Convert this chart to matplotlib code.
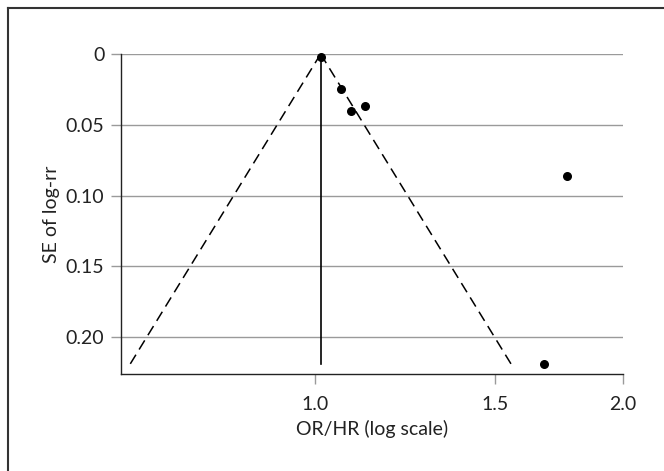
import numpy as np
import matplotlib
matplotlib.use("Agg")
import matplotlib.pyplot as plt
from matplotlib.lines import Line2D
from matplotlib.ticker import FixedLocator, NullLocator

# study estimates (OR/HR) and their standard errors of log-rr
effects = [1.013, 1.061, 1.085, 1.120, 1.763, 1.674]
se = [0.002, 0.0245, 0.040, 0.0367, 0.086, 0.219]

pooled = 1.013
se_max = 0.22

xticks = [1.0, 1.5, 2.0]
xticklabels = ["1.0", "1.5", "2.0"]
yticks = [0, 0.05, 0.10, 0.15, 0.20]
yticklabels = ["0", "0.05", "0.10", "0.15", "0.20"]

plt.rcParams["font.family"] = ["Lato", "DejaVu Sans"]

fig = plt.figure(figsize=(6.64, 4.71), dpi=100)
ax = fig.add_axes([121 / 664, 1 - 374 / 471, (622.5 - 121) / 664, (374 - 54) / 471])

ax.set_xscale("log")
ax.set_xlim(0.646, 2.0)
ax.set_ylim(0.226, 0)

# horizontal grid
for yv in yticks:
    ax.axhline(yv, color="#9a9a9a", lw=1.0, zorder=1)

# funnel (pseudo 95% limits)
s = np.array([0, se_max])
ax.plot(pooled * np.exp(-1.96 * s), s, color="black", lw=1.1, dashes=(7, 4), zorder=2)
ax.plot(pooled * np.exp(1.96 * s), s, color="black", lw=1.1, dashes=(7, 4), zorder=2)
ax.plot([pooled, pooled], [0, se_max - 0.001], color="black", lw=1.2, zorder=2)

ax.scatter(effects, se, s=30, color="black", zorder=3, clip_on=False)

ax.xaxis.set_major_locator(FixedLocator(xticks))
ax.xaxis.set_minor_locator(NullLocator())
ax.set_xticklabels(xticklabels)
ax.set_yticks(yticks)
ax.set_yticklabels(yticklabels)

ax.tick_params(axis="both", direction="out", length=7, width=1, color="#9a9a9a",
               labelsize=14, labelcolor="#222222", pad=5)
ax.tick_params(axis="x", pad=9)

for side in ["top", "right"]:
    ax.spines[side].set_visible(False)
for side in ["left", "bottom"]:
    ax.spines[side].set_color("#222222")
    ax.spines[side].set_linewidth(1.0)

ax.set_xlabel("OR/HR (log scale)", fontsize=14, color="#222222", labelpad=5)
ax.set_ylabel("SE of log-rr", fontsize=14, color="#222222", labelpad=4)

# figure frame (top and left)
fig.add_artist(Line2D([7.5 / 664, 1], [1 - 7.5 / 471, 1 - 7.5 / 471],
                      transform=fig.transFigure, color="#333333", lw=1.5))
fig.add_artist(Line2D([7.5 / 664, 7.5 / 664], [0, 1 - 7.5 / 471],
                      transform=fig.transFigure, color="#333333", lw=1.5))

fig.savefig("out.png", dpi=100)
